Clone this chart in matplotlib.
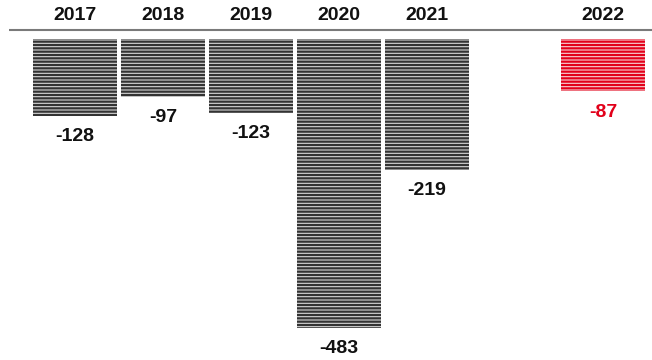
import matplotlib.pyplot as plt
import numpy as np

plt.rcParams['font.family'] = ['Liberation Sans', 'DejaVu Sans']

years = ["2017", "2018", "2019", "2020", "2021", "2022"]
values = [-128, -97, -123, -483, -219, -87]
positions = [0, 1, 2, 3, 4, 6]
highlight = "2022"

dark = "#111111"
red = "#e2001a"

fig = plt.figure(figsize=(6.52, 3.6), dpi=100)
ax = fig.add_axes([0, 0, 1, 1])
ax.set_xlim(-0.852, 6.557)
ax.set_ylim(-536.8, 65.2)
ax.axis("off")

plt.rcParams['hatch.linewidth'] = 1.6
for yr, v, p in zip(years, values, positions):
    if yr == highlight:
        face, hatch_c, txt_c = "#f8d0d3", red, red
    else:
        face, hatch_c, txt_c = "#d6d6d6", "#333333", dark
    ax.bar(p, v, width=0.955, bottom=0, color=face, edgecolor=hatch_c,
           hatch="-----", linewidth=0)
    ax.text(p, 38.5, yr, ha="center", va="center", fontsize=14,
            fontweight="bold", color=dark)
    ax.annotate(str(v), (p, v), xytext=(0, -9), textcoords="offset points",
                ha="center", va="top", fontsize=14, fontweight="bold",
                color=txt_c)

# baseline rule above the bars
ax.plot([-0.75, 6.557], [14.2, 14.2], color="#7a7a7a", lw=1.5,
        solid_capstyle="butt")

fig.savefig("out.png", dpi=100)
